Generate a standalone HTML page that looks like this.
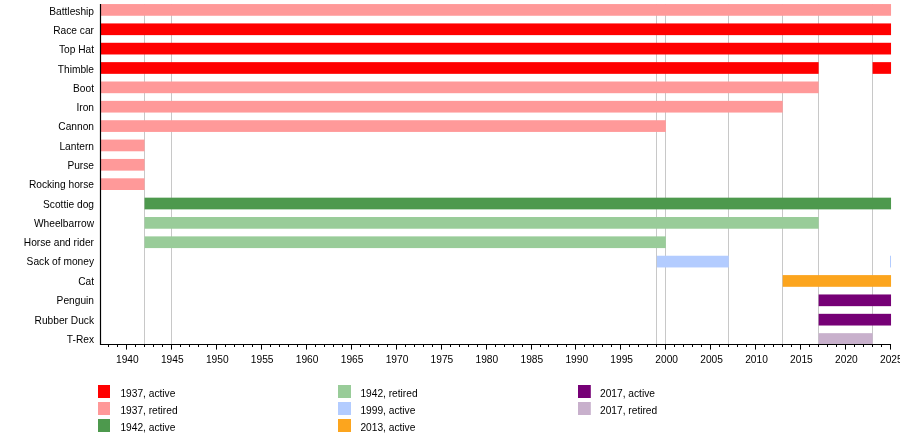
<!DOCTYPE html><html><head><meta charset="utf-8"><style>html,body{margin:0;padding:0;background:#fff;width:900px;height:433px;overflow:hidden}svg{display:block;will-change:transform}text{font-family:"Liberation Sans",sans-serif;font-size:10.2px;fill:#000}</style></head><body>
<svg width="900" height="433" viewBox="0 0 900 433">
<rect width="900" height="433" fill="#fff"/>
<line x1="144.5" y1="4" x2="144.5" y2="344.5" stroke="#c8c8c8" stroke-width="1"/>
<line x1="171.5" y1="4" x2="171.5" y2="344.5" stroke="#c8c8c8" stroke-width="1"/>
<line x1="656.5" y1="4" x2="656.5" y2="344.5" stroke="#c8c8c8" stroke-width="1"/>
<line x1="665.5" y1="4" x2="665.5" y2="344.5" stroke="#c8c8c8" stroke-width="1"/>
<line x1="728.5" y1="4" x2="728.5" y2="344.5" stroke="#c8c8c8" stroke-width="1"/>
<line x1="782.5" y1="4" x2="782.5" y2="344.5" stroke="#c8c8c8" stroke-width="1"/>
<line x1="818.5" y1="4" x2="818.5" y2="344.5" stroke="#c8c8c8" stroke-width="1"/>
<line x1="872.5" y1="4" x2="872.5" y2="344.5" stroke="#c8c8c8" stroke-width="1"/>
<rect x="100.50" y="4.06" width="790.54" height="11.7" fill="#ff9999"/>
<text x="94" y="15.05" text-anchor="end">Battleship</text>
<rect x="100.50" y="23.42" width="790.54" height="11.7" fill="#ff0000"/>
<text x="94" y="34.0" text-anchor="end">Race car</text>
<rect x="100.50" y="42.78" width="790.54" height="11.7" fill="#ff0000"/>
<text x="94" y="53.1" text-anchor="end">Top Hat</text>
<rect x="100.50" y="62.14" width="718.14" height="11.7" fill="#ff0000"/>
<rect x="872.57" y="62.14" width="18.48" height="11.7" fill="#ff0000"/>
<text x="94" y="73.1" text-anchor="end">Thimble</text>
<rect x="100.50" y="81.50" width="718.14" height="11.7" fill="#ff9999"/>
<text x="94" y="92.0" text-anchor="end">Boot</text>
<rect x="100.50" y="100.86" width="682.19" height="11.7" fill="#ff9999"/>
<text x="94" y="111.2" text-anchor="end">Iron</text>
<rect x="100.50" y="120.22" width="565.34" height="11.7" fill="#ff9999"/>
<text x="94" y="130.2" text-anchor="end">Cannon</text>
<rect x="100.50" y="139.58" width="44.04" height="11.7" fill="#ff9999"/>
<text x="94" y="150.3" text-anchor="end">Lantern</text>
<rect x="100.50" y="158.94" width="44.04" height="11.7" fill="#ff9999"/>
<text x="94" y="169.15" text-anchor="end">Purse</text>
<rect x="100.50" y="178.30" width="44.04" height="11.7" fill="#ff9999"/>
<text x="94" y="188.15" text-anchor="end">Rocking horse</text>
<rect x="144.54" y="197.66" width="746.50" height="11.7" fill="#4d994d"/>
<text x="94" y="208.1" text-anchor="end">Scottie dog</text>
<rect x="144.54" y="217.02" width="674.10" height="11.7" fill="#99cc99"/>
<text x="94" y="226.8" text-anchor="end">Wheelbarrow</text>
<rect x="144.54" y="236.38" width="521.30" height="11.7" fill="#99cc99"/>
<text x="94" y="245.9" text-anchor="end">Horse and rider</text>
<rect x="656.86" y="255.74" width="71.90" height="11.7" fill="#b3ccff"/>
<rect x="890.00" y="255.74" width="1.00" height="11.7" fill="#b3ccff"/>
<text x="94" y="265.1" text-anchor="end">Sack of money</text>
<rect x="782.69" y="275.10" width="108.36" height="11.7" fill="#fca51e"/>
<text x="94" y="284.8" text-anchor="end">Cat</text>
<rect x="818.64" y="294.46" width="72.40" height="11.7" fill="#760076"/>
<text x="94" y="304" text-anchor="end">Penguin</text>
<rect x="818.64" y="313.82" width="72.40" height="11.7" fill="#760076"/>
<text x="94" y="324.0" text-anchor="end">Rubber Duck</text>
<rect x="818.64" y="333.18" width="53.93" height="11.7" fill="#c8b0cc"/>
<text x="94" y="342.8" text-anchor="end">T-Rex</text>
<line x1="100.5" y1="3.9" x2="100.5" y2="345.0" stroke="#000" stroke-width="1.2"/>
<line x1="100" y1="344.5" x2="891.04" y2="344.5" stroke="#000" stroke-width="1.2"/>
<line x1="108.5" y1="344.5" x2="108.5" y2="347.0" stroke="#000" stroke-width="1"/>
<line x1="117.5" y1="344.5" x2="117.5" y2="347.0" stroke="#000" stroke-width="1"/>
<line x1="126.5" y1="344.5" x2="126.5" y2="349.6" stroke="#000" stroke-width="1"/>
<text x="127.36" y="363" text-anchor="middle">1940</text>
<line x1="135.5" y1="344.5" x2="135.5" y2="347.0" stroke="#000" stroke-width="1"/>
<line x1="144.5" y1="344.5" x2="144.5" y2="347.0" stroke="#000" stroke-width="1"/>
<line x1="153.5" y1="344.5" x2="153.5" y2="347.0" stroke="#000" stroke-width="1"/>
<line x1="162.5" y1="344.5" x2="162.5" y2="347.0" stroke="#000" stroke-width="1"/>
<line x1="171.5" y1="344.5" x2="171.5" y2="349.6" stroke="#000" stroke-width="1"/>
<text x="172.30" y="363" text-anchor="middle">1945</text>
<line x1="180.5" y1="344.5" x2="180.5" y2="347.0" stroke="#000" stroke-width="1"/>
<line x1="189.5" y1="344.5" x2="189.5" y2="347.0" stroke="#000" stroke-width="1"/>
<line x1="198.5" y1="344.5" x2="198.5" y2="347.0" stroke="#000" stroke-width="1"/>
<line x1="207.5" y1="344.5" x2="207.5" y2="347.0" stroke="#000" stroke-width="1"/>
<line x1="216.5" y1="344.5" x2="216.5" y2="349.6" stroke="#000" stroke-width="1"/>
<text x="217.24" y="363" text-anchor="middle">1950</text>
<line x1="225.5" y1="344.5" x2="225.5" y2="347.0" stroke="#000" stroke-width="1"/>
<line x1="234.5" y1="344.5" x2="234.5" y2="347.0" stroke="#000" stroke-width="1"/>
<line x1="243.5" y1="344.5" x2="243.5" y2="347.0" stroke="#000" stroke-width="1"/>
<line x1="252.5" y1="344.5" x2="252.5" y2="347.0" stroke="#000" stroke-width="1"/>
<line x1="261.5" y1="344.5" x2="261.5" y2="349.6" stroke="#000" stroke-width="1"/>
<text x="262.18" y="363" text-anchor="middle">1955</text>
<line x1="270.5" y1="344.5" x2="270.5" y2="347.0" stroke="#000" stroke-width="1"/>
<line x1="279.5" y1="344.5" x2="279.5" y2="347.0" stroke="#000" stroke-width="1"/>
<line x1="288.5" y1="344.5" x2="288.5" y2="347.0" stroke="#000" stroke-width="1"/>
<line x1="297.5" y1="344.5" x2="297.5" y2="347.0" stroke="#000" stroke-width="1"/>
<line x1="306.5" y1="344.5" x2="306.5" y2="349.6" stroke="#000" stroke-width="1"/>
<text x="307.12" y="363" text-anchor="middle">1960</text>
<line x1="315.5" y1="344.5" x2="315.5" y2="347.0" stroke="#000" stroke-width="1"/>
<line x1="324.5" y1="344.5" x2="324.5" y2="347.0" stroke="#000" stroke-width="1"/>
<line x1="333.5" y1="344.5" x2="333.5" y2="347.0" stroke="#000" stroke-width="1"/>
<line x1="342.5" y1="344.5" x2="342.5" y2="347.0" stroke="#000" stroke-width="1"/>
<line x1="351.5" y1="344.5" x2="351.5" y2="349.6" stroke="#000" stroke-width="1"/>
<text x="352.06" y="363" text-anchor="middle">1965</text>
<line x1="360.5" y1="344.5" x2="360.5" y2="347.0" stroke="#000" stroke-width="1"/>
<line x1="369.5" y1="344.5" x2="369.5" y2="347.0" stroke="#000" stroke-width="1"/>
<line x1="378.5" y1="344.5" x2="378.5" y2="347.0" stroke="#000" stroke-width="1"/>
<line x1="387.5" y1="344.5" x2="387.5" y2="347.0" stroke="#000" stroke-width="1"/>
<line x1="396.5" y1="344.5" x2="396.5" y2="349.6" stroke="#000" stroke-width="1"/>
<text x="397.00" y="363" text-anchor="middle">1970</text>
<line x1="405.5" y1="344.5" x2="405.5" y2="347.0" stroke="#000" stroke-width="1"/>
<line x1="414.5" y1="344.5" x2="414.5" y2="347.0" stroke="#000" stroke-width="1"/>
<line x1="423.5" y1="344.5" x2="423.5" y2="347.0" stroke="#000" stroke-width="1"/>
<line x1="432.5" y1="344.5" x2="432.5" y2="347.0" stroke="#000" stroke-width="1"/>
<line x1="441.5" y1="344.5" x2="441.5" y2="349.6" stroke="#000" stroke-width="1"/>
<text x="441.94" y="363" text-anchor="middle">1975</text>
<line x1="450.5" y1="344.5" x2="450.5" y2="347.0" stroke="#000" stroke-width="1"/>
<line x1="459.5" y1="344.5" x2="459.5" y2="347.0" stroke="#000" stroke-width="1"/>
<line x1="468.5" y1="344.5" x2="468.5" y2="347.0" stroke="#000" stroke-width="1"/>
<line x1="477.5" y1="344.5" x2="477.5" y2="347.0" stroke="#000" stroke-width="1"/>
<line x1="486.5" y1="344.5" x2="486.5" y2="349.6" stroke="#000" stroke-width="1"/>
<text x="486.88" y="363" text-anchor="middle">1980</text>
<line x1="495.5" y1="344.5" x2="495.5" y2="347.0" stroke="#000" stroke-width="1"/>
<line x1="504.5" y1="344.5" x2="504.5" y2="347.0" stroke="#000" stroke-width="1"/>
<line x1="513.5" y1="344.5" x2="513.5" y2="347.0" stroke="#000" stroke-width="1"/>
<line x1="522.5" y1="344.5" x2="522.5" y2="347.0" stroke="#000" stroke-width="1"/>
<line x1="531.5" y1="344.5" x2="531.5" y2="349.6" stroke="#000" stroke-width="1"/>
<text x="531.82" y="363" text-anchor="middle">1985</text>
<line x1="540.5" y1="344.5" x2="540.5" y2="347.0" stroke="#000" stroke-width="1"/>
<line x1="548.5" y1="344.5" x2="548.5" y2="347.0" stroke="#000" stroke-width="1"/>
<line x1="557.5" y1="344.5" x2="557.5" y2="347.0" stroke="#000" stroke-width="1"/>
<line x1="566.5" y1="344.5" x2="566.5" y2="347.0" stroke="#000" stroke-width="1"/>
<line x1="575.5" y1="344.5" x2="575.5" y2="349.6" stroke="#000" stroke-width="1"/>
<text x="576.76" y="363" text-anchor="middle">1990</text>
<line x1="584.5" y1="344.5" x2="584.5" y2="347.0" stroke="#000" stroke-width="1"/>
<line x1="593.5" y1="344.5" x2="593.5" y2="347.0" stroke="#000" stroke-width="1"/>
<line x1="602.5" y1="344.5" x2="602.5" y2="347.0" stroke="#000" stroke-width="1"/>
<line x1="611.5" y1="344.5" x2="611.5" y2="347.0" stroke="#000" stroke-width="1"/>
<line x1="620.5" y1="344.5" x2="620.5" y2="349.6" stroke="#000" stroke-width="1"/>
<text x="621.70" y="363" text-anchor="middle">1995</text>
<line x1="629.5" y1="344.5" x2="629.5" y2="347.0" stroke="#000" stroke-width="1"/>
<line x1="638.5" y1="344.5" x2="638.5" y2="347.0" stroke="#000" stroke-width="1"/>
<line x1="647.5" y1="344.5" x2="647.5" y2="347.0" stroke="#000" stroke-width="1"/>
<line x1="656.5" y1="344.5" x2="656.5" y2="347.0" stroke="#000" stroke-width="1"/>
<line x1="665.5" y1="344.5" x2="665.5" y2="349.6" stroke="#000" stroke-width="1"/>
<text x="666.64" y="363" text-anchor="middle">2000</text>
<line x1="674.5" y1="344.5" x2="674.5" y2="347.0" stroke="#000" stroke-width="1"/>
<line x1="683.5" y1="344.5" x2="683.5" y2="347.0" stroke="#000" stroke-width="1"/>
<line x1="692.5" y1="344.5" x2="692.5" y2="347.0" stroke="#000" stroke-width="1"/>
<line x1="701.5" y1="344.5" x2="701.5" y2="347.0" stroke="#000" stroke-width="1"/>
<line x1="710.5" y1="344.5" x2="710.5" y2="349.6" stroke="#000" stroke-width="1"/>
<text x="711.58" y="363" text-anchor="middle">2005</text>
<line x1="719.5" y1="344.5" x2="719.5" y2="347.0" stroke="#000" stroke-width="1"/>
<line x1="728.5" y1="344.5" x2="728.5" y2="347.0" stroke="#000" stroke-width="1"/>
<line x1="737.5" y1="344.5" x2="737.5" y2="347.0" stroke="#000" stroke-width="1"/>
<line x1="746.5" y1="344.5" x2="746.5" y2="347.0" stroke="#000" stroke-width="1"/>
<line x1="755.5" y1="344.5" x2="755.5" y2="349.6" stroke="#000" stroke-width="1"/>
<text x="756.52" y="363" text-anchor="middle">2010</text>
<line x1="764.5" y1="344.5" x2="764.5" y2="347.0" stroke="#000" stroke-width="1"/>
<line x1="773.5" y1="344.5" x2="773.5" y2="347.0" stroke="#000" stroke-width="1"/>
<line x1="782.5" y1="344.5" x2="782.5" y2="347.0" stroke="#000" stroke-width="1"/>
<line x1="791.5" y1="344.5" x2="791.5" y2="347.0" stroke="#000" stroke-width="1"/>
<line x1="800.5" y1="344.5" x2="800.5" y2="349.6" stroke="#000" stroke-width="1"/>
<text x="801.46" y="363" text-anchor="middle">2015</text>
<line x1="809.5" y1="344.5" x2="809.5" y2="347.0" stroke="#000" stroke-width="1"/>
<line x1="818.5" y1="344.5" x2="818.5" y2="347.0" stroke="#000" stroke-width="1"/>
<line x1="827.5" y1="344.5" x2="827.5" y2="347.0" stroke="#000" stroke-width="1"/>
<line x1="836.5" y1="344.5" x2="836.5" y2="347.0" stroke="#000" stroke-width="1"/>
<line x1="845.5" y1="344.5" x2="845.5" y2="349.6" stroke="#000" stroke-width="1"/>
<text x="846.40" y="363" text-anchor="middle">2020</text>
<line x1="854.5" y1="344.5" x2="854.5" y2="347.0" stroke="#000" stroke-width="1"/>
<line x1="863.5" y1="344.5" x2="863.5" y2="347.0" stroke="#000" stroke-width="1"/>
<line x1="872.5" y1="344.5" x2="872.5" y2="347.0" stroke="#000" stroke-width="1"/>
<line x1="881.5" y1="344.5" x2="881.5" y2="347.0" stroke="#000" stroke-width="1"/>
<line x1="890.5" y1="344.5" x2="890.5" y2="349.6" stroke="#000" stroke-width="1"/>
<text x="891.34" y="363" text-anchor="middle">2025</text>
<rect x="98" y="385" width="12" height="13" fill="#ff0000"/>
<text x="120.4" y="396.9">1937, active</text>
<rect x="98" y="402" width="12" height="13" fill="#ff9999"/>
<text x="120.4" y="413.9">1937, retired</text>
<rect x="98" y="419" width="12" height="13" fill="#4d994d"/>
<text x="120.4" y="430.9">1942, active</text>
<rect x="338" y="385" width="13" height="13" fill="#99cc99"/>
<text x="360.4" y="396.9">1942, retired</text>
<rect x="338" y="402" width="13" height="13" fill="#b3ccff"/>
<text x="360.4" y="413.9">1999, active</text>
<rect x="338" y="419" width="13" height="13" fill="#fca51e"/>
<text x="360.4" y="430.9">2013, active</text>
<rect x="578" y="385" width="12.8" height="13" fill="#760076"/>
<text x="600" y="396.9">2017, active</text>
<rect x="578" y="402" width="12.8" height="13" fill="#c8b0cc"/>
<text x="600" y="413.9">2017, retired</text>
</svg></body></html>
